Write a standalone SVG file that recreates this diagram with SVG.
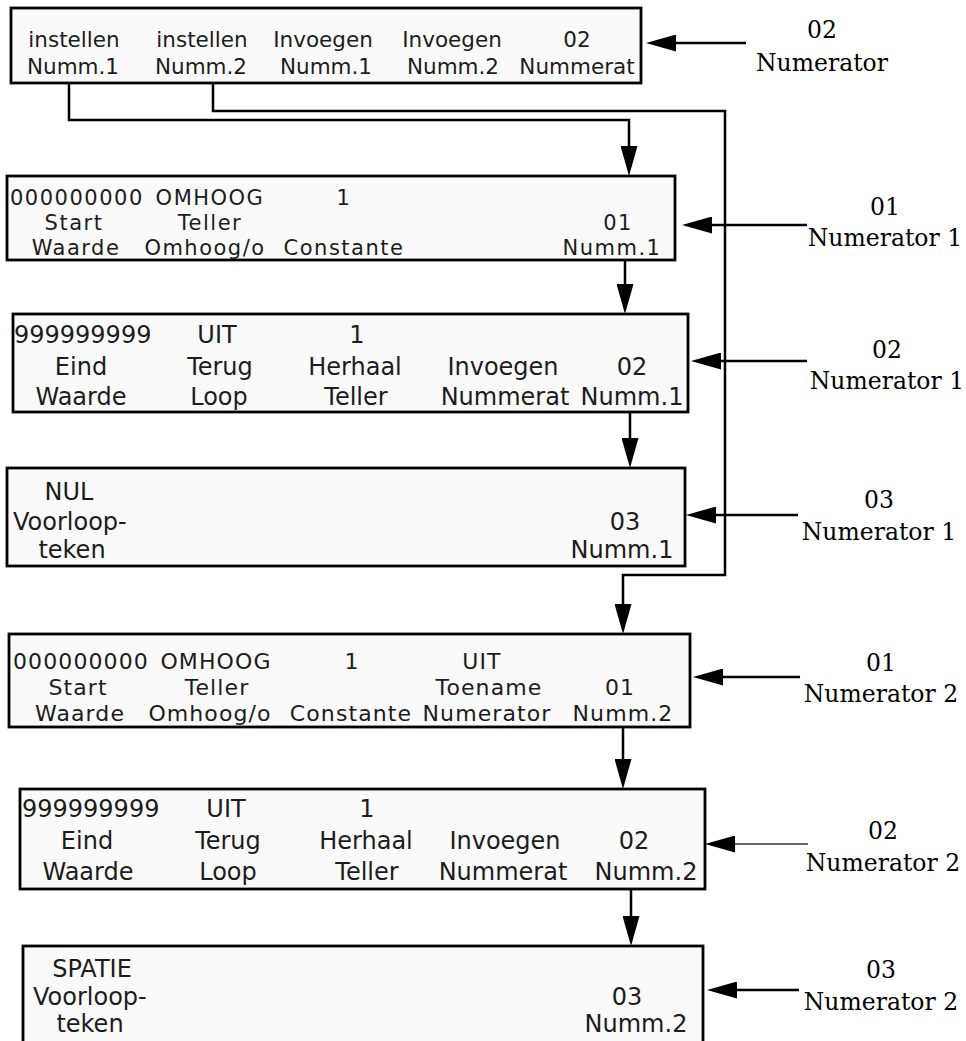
<svg xmlns="http://www.w3.org/2000/svg" width="966" height="1041" viewBox="0 0 966 1041">
<style>
.box{fill:#fafafa;stroke:#000;stroke-width:2.8}
.t{font-family:"DejaVu Sans",sans-serif;font-size:24px;fill:#1c1c1c}
.t2{font-family:"DejaVu Sans",sans-serif;font-size:21px;letter-spacing:1.5px;fill:#1c1c1c}
.t5{font-family:"DejaVu Sans",sans-serif;font-size:22px;letter-spacing:1.1px;fill:#1c1c1c}
.ts{font-family:"DejaVu Sans",sans-serif;font-size:21.5px;fill:#1c1c1c}
.m{text-anchor:middle}
.lbl{font-family:"DejaVu Serif","Liberation Serif",serif;font-size:23.5px;fill:#000;text-anchor:middle}
.c{fill:none;stroke:#000;stroke-width:2.5}
.cg{fill:none;stroke:#333;stroke-width:1.6}
</style>
<defs>
<marker id="ah" markerUnits="userSpaceOnUse" markerWidth="30" markerHeight="17" viewBox="0 0 30 17" refX="22" refY="8.5" orient="auto">
<path d="M0,0 L30,8.5 L0,17 z" fill="#000"/>
</marker>
</defs>
<rect width="966" height="1041" fill="#fff"/>

<g id="menu-numerator">
<rect class="box" x="11" y="8" width="630" height="75"/>
<text class="ts m" x="74" y="47">instellen</text>
<text class="ts m" x="202" y="47">instellen</text>
<text class="ts m" x="323" y="47">Invoegen</text>
<text class="ts m" x="452" y="47">Invoegen</text>
<text class="ts m" x="577" y="47">02</text>
<text class="ts m" x="73" y="74">Numm.1</text>
<text class="ts m" x="201" y="74">Numm.2</text>
<text class="ts m" x="326" y="74">Numm.1</text>
<text class="ts m" x="453" y="74">Numm.2</text>
<text class="ts m" x="577" y="74">Nummerat</text>
</g>

<g id="n1-01">
<rect class="box" x="7" y="176" width="668" height="84"/>
<text class="t2" x="10" y="205">000000000</text>
<text class="t2 m" x="210" y="205">OMHOOG</text>
<text class="t2 m" x="344" y="205">1</text>
<text class="t2 m" x="74" y="230">Start</text>
<text class="t2 m" x="210" y="230">Teller</text>
<text class="t2 m" x="618" y="230">01</text>
<text class="t2 m" x="76" y="255">Waarde</text>
<text class="t2 m" x="205" y="255">Omhoog/o</text>
<text class="t2 m" x="344" y="255">Constante</text>
<text class="t2 m" x="612" y="255">Numm.1</text>
</g>

<g id="n1-02">
<rect class="box" x="13" y="314" width="675" height="98"/>
<text class="t" x="14" y="343">999999999</text>
<text class="t m" x="217" y="343">UIT</text>
<text class="t m" x="357" y="343">1</text>
<text class="t m" x="81" y="375">Eind</text>
<text class="t m" x="220" y="375">Terug</text>
<text class="t m" x="355" y="375">Herhaal</text>
<text class="t m" x="503" y="375">Invoegen</text>
<text class="t m" x="632" y="375">02</text>
<text class="t m" x="81" y="405">Waarde</text>
<text class="t m" x="219" y="405">Loop</text>
<text class="t m" x="356" y="405">Teller</text>
<text class="t m" x="505" y="405">Nummerat</text>
<text class="t m" x="632" y="405">Numm.1</text>
</g>

<g id="n1-03">
<rect class="box" x="7" y="468" width="678" height="98"/>
<text class="t m" x="69" y="500">NUL</text>
<text class="t" x="13" y="530">Voorloop-</text>
<text class="t m" x="72" y="558">teken</text>
<text class="t m" x="625" y="530">03</text>
<text class="t m" x="622" y="558">Numm.1</text>
</g>

<g id="n2-01">
<rect class="box" x="9" y="634" width="681" height="93"/>
<text class="t5" x="13" y="669">000000000</text>
<text class="t5 m" x="216" y="669">OMHOOG</text>
<text class="t5 m" x="352" y="669">1</text>
<text class="t5 m" x="482" y="669">UIT</text>
<text class="t5 m" x="78" y="695">Start</text>
<text class="t5 m" x="217" y="695">Teller</text>
<text class="t5 m" x="489" y="695">Toename</text>
<text class="t5 m" x="620" y="695">01</text>
<text class="t5 m" x="80" y="721">Waarde</text>
<text class="t5 m" x="210" y="721">Omhoog/o</text>
<text class="t5 m" x="351" y="721">Constante</text>
<text class="t5 m" x="487" y="721">Numerator</text>
<text class="t5 m" x="623" y="721">Numm.2</text>
</g>

<g id="n2-02">
<rect class="box" x="20" y="789" width="685" height="100"/>
<text class="t" x="22" y="817">999999999</text>
<text class="t m" x="226" y="817">UIT</text>
<text class="t m" x="367" y="817">1</text>
<text class="t m" x="87" y="849">Eind</text>
<text class="t m" x="228" y="849">Terug</text>
<text class="t m" x="366" y="849">Herhaal</text>
<text class="t m" x="505" y="849">Invoegen</text>
<text class="t m" x="634" y="849">02</text>
<text class="t m" x="88" y="880">Waarde</text>
<text class="t m" x="228" y="880">Loop</text>
<text class="t m" x="367" y="880">Teller</text>
<text class="t m" x="503" y="880">Nummerat</text>
<text class="t m" x="646" y="880">Numm.2</text>
</g>

<g id="n2-03">
<rect class="box" x="23" y="946" width="680" height="110"/>
<text class="t m" x="92" y="977">SPATIE</text>
<text class="t" x="33" y="1005">Voorloop-</text>
<text class="t m" x="90" y="1032">teken</text>
<text class="t m" x="627" y="1005">03</text>
<text class="t m" x="636" y="1032">Numm.2</text>
</g>

<g id="labels">
<text class="lbl" x="822" y="38">02</text>
<text class="lbl" x="822" y="71">Numerator</text>
<text class="lbl" x="885" y="215">01</text>
<text class="lbl" x="885" y="246">Numerator 1</text>
<text class="lbl" x="887" y="358">02</text>
<text class="lbl" x="887" y="389">Numerator 1</text>
<text class="lbl" x="879" y="508">03</text>
<text class="lbl" x="879" y="540">Numerator 1</text>
<text class="lbl" x="881" y="671">01</text>
<text class="lbl" x="881" y="702">Numerator 2</text>
<text class="lbl" x="883" y="839">02</text>
<text class="lbl" x="883" y="871">Numerator 2</text>
<text class="lbl" x="881" y="978">03</text>
<text class="lbl" x="881" y="1010">Numerator 2</text>
</g>

<g id="connectors">
<path class="c" d="M69,83 V120 H629 V168" marker-end="url(#ah)"/>
<path class="c" d="M213,83 V111 H725 V575 H623 V626" marker-end="url(#ah)"/>
<path class="c" d="M625,260 V306" marker-end="url(#ah)"/>
<path class="c" d="M630,412 V460" marker-end="url(#ah)"/>
<path class="c" d="M623,727 V781" marker-end="url(#ah)"/>
<path class="c" d="M631,889 V938" marker-end="url(#ah)"/>
<path class="c" d="M746,43 H654" marker-end="url(#ah)"/>
<path class="c" d="M807,225 H690" marker-end="url(#ah)"/>
<path class="c" d="M807,361 H699" marker-end="url(#ah)"/>
<path class="c" d="M798,515 H694" marker-end="url(#ah)"/>
<path class="c" d="M800,677 H701" marker-end="url(#ah)"/>
<path class="cg" d="M808,844 H713" marker-end="url(#ah)"/>
<path class="c" d="M799,990 H715" marker-end="url(#ah)"/>
</g>
</svg>
